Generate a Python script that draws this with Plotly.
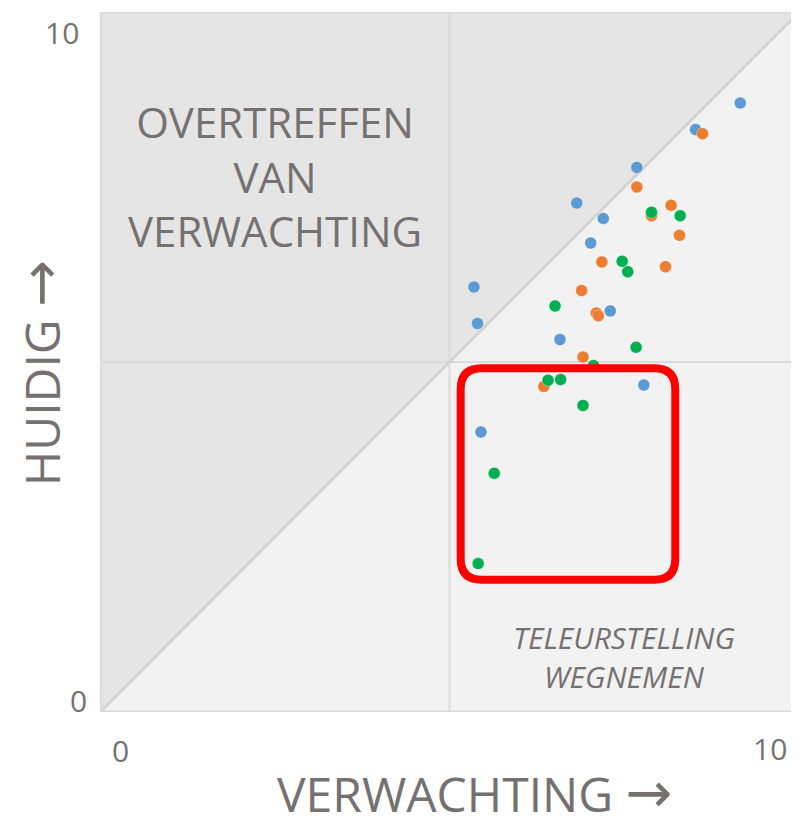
import plotly.graph_objects as go

# --- data ---
blue_x = [9.16, 8.52, 7.68, 6.82, 7.20, 7.02, 5.35, 7.30, 5.40, 6.58, 7.78, 5.45]
blue_y = [8.70, 8.32, 7.78, 7.27, 7.05, 6.70, 6.07, 5.73, 5.55, 5.32, 4.67, 4.00]
orange_x = [8.62, 7.68, 8.17, 7.89, 8.29, 7.18, 8.09, 6.89, 7.10, 7.13, 6.91, 6.35]
orange_y = [8.26, 7.50, 7.24, 7.09, 6.81, 6.43, 6.36, 6.02, 5.70, 5.66, 5.07, 4.65]
green_x = [7.89, 8.30, 7.47, 7.55, 6.51, 7.67, 7.06, 6.41, 6.59, 6.91, 5.64, 5.41]
green_y = [7.14, 7.09, 6.44, 6.29, 5.80, 5.21, 4.95, 4.74, 4.75, 4.38, 3.41, 2.12]

axis_min, axis_max = 0, 10
tick_labels = ["0", "10"]
quadrant_top = "OVERTREFFEN<br>VAN<br>VERWACHTING"
quadrant_bottom = "TELEURSTELLING<br>WEGNEMEN"
x_title = "VERWACHTING"
y_title = "HUIDIG"
ARROW = "→"

GRAY_TXT = "#767171"
FONT = "Open Sans"

fig = go.Figure()
for xs, ys, col in [(blue_x, blue_y, "#5B9BD5"), (orange_x, orange_y, "#ED7D31"), (green_x, green_y, "#00B050")]:
    fig.add_trace(go.Scatter(x=xs, y=ys, mode="markers",
                             marker=dict(size=12, color=col, line=dict(width=0.6, color="rgba(255,255,255,0.6)")),
                             showlegend=False, hoverinfo="x+y"))

mid = (axis_min + axis_max) / 2
shapes = [
    dict(type="path", path=f"M {axis_min},{axis_min} L {axis_min},{axis_max} L {axis_max},{axis_max} Z",
         xref="x", yref="y", fillcolor="#e5e5e5", line=dict(width=0), layer="below"),
    dict(type="line", x0=mid, x1=mid, y0=axis_min, y1=axis_max, xref="x", yref="y",
         line=dict(color="#d9d9d9", width=2), layer="below"),
    dict(type="line", x0=axis_min, x1=axis_max, y0=mid, y1=mid, xref="x", yref="y",
         line=dict(color="#d9d9d9", width=2), layer="below"),
    dict(type="line", x0=axis_min, y0=axis_min, x1=axis_max, y1=axis_max, xref="x", yref="y",
         line=dict(color="#d4d4d4", width=3), layer="below"),
    dict(type="rect", x0=axis_min, x1=axis_max, y0=axis_min, y1=axis_max, xref="x", yref="y",
         line=dict(color="#d9d9d9", width=3), layer="below"),
]

x0, x1, y0, y1, r, ry = 5.16, 8.23, 1.89, 4.91, 0.30, 0.30
path = (f"M {x0+r},{y1} L {x1-r},{y1} Q {x1},{y1} {x1},{y1-ry} "
        f"L {x1},{y0+ry} Q {x1},{y0} {x1-r},{y0} L {x0+r},{y0} Q {x0},{y0} {x0},{y0+ry} "
        f"L {x0},{y1-ry} Q {x0},{y1} {x0+r},{y1} Z")
shapes.append(dict(type="path", path=path, xref="x", yref="y",
                   line=dict(color="#FF0000", width=8), fillcolor="rgba(0,0,0,0)", layer="above"))

arrow_span = f"<span style='font-family:\"DejaVu Sans\";font-size:56px'>{ARROW}</span>"
tick_font = dict(family=FONT, size=30, color=GRAY_TXT)
annotations = [
    dict(x=2.5, y=7.66, xref="x", yref="y", text=quadrant_top, showarrow=False,
         font=dict(family=FONT, size=42, color=GRAY_TXT), align="center"),
    dict(x=7.50, y=0.79, xref="x", yref="y", text=f"<i>{quadrant_bottom}</i>", showarrow=False,
         font=dict(family=FONT, size=30, color=GRAY_TXT), align="center"),
    dict(x=0, y=axis_min, xref="paper", yref="y", text=tick_labels[0], showarrow=False,
         xanchor="center", yanchor="middle", xshift=-22, yshift=12, font=tick_font),
    dict(x=0, y=axis_max, xref="paper", yref="y", text=tick_labels[1], showarrow=False,
         xanchor="center", yanchor="middle", xshift=-38, yshift=-20, font=tick_font),
    dict(x=axis_min, y=0, xref="x", yref="paper", text=tick_labels[0], showarrow=False,
         xanchor="center", yanchor="middle", xshift=20, yshift=-38, font=tick_font),
    dict(x=axis_max, y=0, xref="x", yref="paper", text=tick_labels[1], showarrow=False,
         xanchor="center", yanchor="middle", xshift=-29, yshift=-36, font=tick_font),
    dict(x=5.36, y=0, xref="x", yref="paper", text=f"{x_title} {arrow_span}", showarrow=False,
         xanchor="center", yanchor="bottom", yshift=-116,
         font=dict(family=FONT, size=48, color=GRAY_TXT)),
    dict(x=0, y=4.84, xref="paper", yref="y", text=f"{y_title} {arrow_span}", showarrow=False,
         textangle=-90, xanchor="left", yanchor="middle", xshift=-94,
         font=dict(family=FONT, size=48, color=GRAY_TXT)),
]

fig.update_layout(
    width=791, height=818,
    margin=dict(l=92, r=0, t=4, b=114),
    paper_bgcolor="white", plot_bgcolor="#f2f2f2",
    xaxis=dict(range=[axis_min, axis_max], showgrid=False, zeroline=False, showticklabels=False,
               showline=False, fixedrange=True),
    yaxis=dict(range=[axis_min, axis_max], showgrid=False, zeroline=False, showticklabels=False,
               showline=False, fixedrange=True),
    shapes=shapes, annotations=annotations,
)

fig.write_html("out.html")
